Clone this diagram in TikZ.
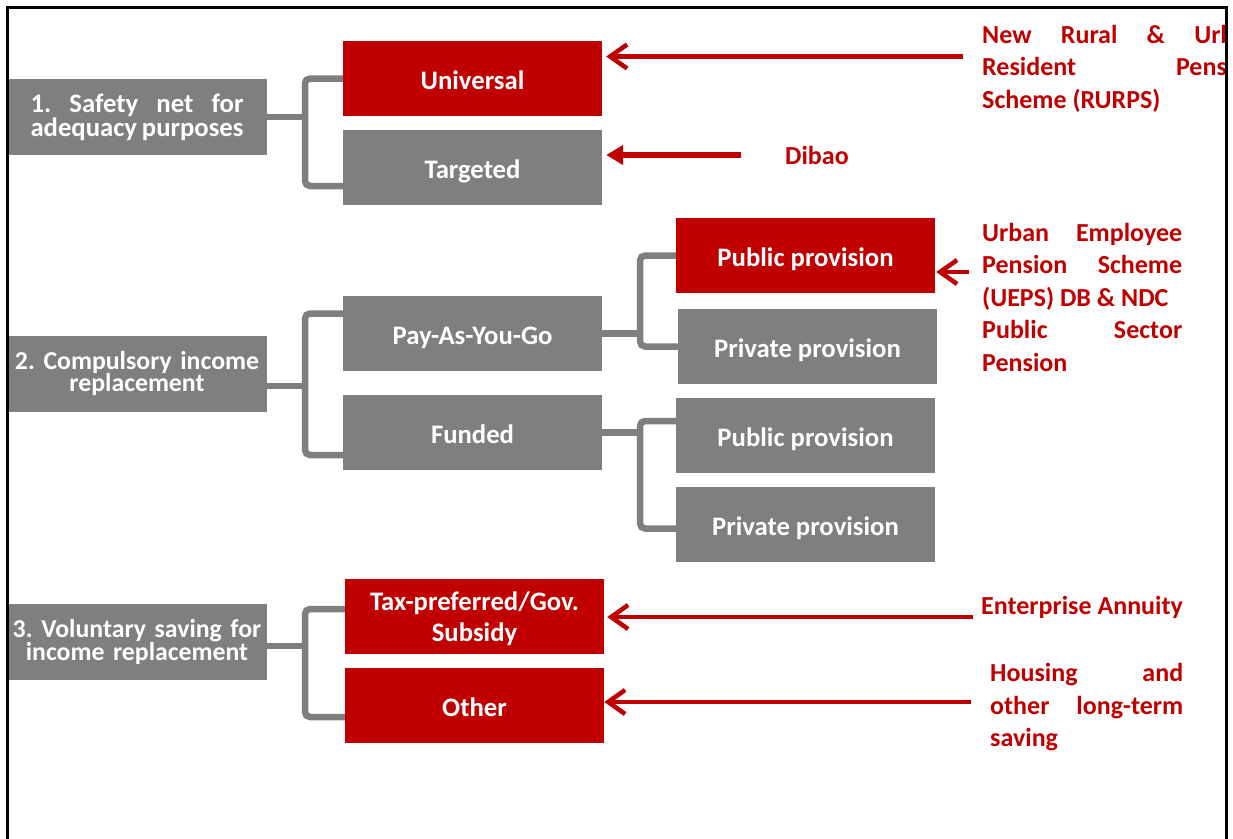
\documentclass[tikz,border=0pt]{standalone}
\usepackage{fontspec}
\setmainfont{Carlito}
\usetikzlibrary{arrows.meta,calc}
\definecolor{gbox}{HTML}{7F7F7F}
\definecolor{rbox}{HTML}{C00000}
\frenchspacing
\begin{document}
\begin{tikzpicture}[x=1pt,y=-1pt,
  box/.style={minimum width=259pt,minimum height=75pt,inner sep=0pt,text=white,
    font=\bfseries\fontsize{26.7}{26}\selectfont},
  one/.style={text height=21pt,text depth=0pt},
  gbx/.style={box,fill=gbox},
  rbx/.style={box,fill=rbox},
  lvl/.style={gbx,minimum width=260pt,minimum height=76pt},
  br/.style={draw=gbox,line width=6.5pt,rounded corners=5pt},
  arr/.style={draw=rbox,line width=4.5pt,-{Straight Barb[length=17pt,width=24pt]}},
  arrf/.style={draw=rbox,line width=6pt,-{Triangle[length=17pt,width=19pt]}},
  lab/.style={text=rbox,font=\bfseries\fontsize{26}{32.5}\selectfont,inner sep=0pt,anchor=base west}
]
\useasboundingbox (0,0) rectangle (1233,838);

% level 1
\node[lvl,text width=213pt,align=justify,font=\bfseries\fontsize{26.7}{22}\selectfont] (l1) at (137,117) {1. Safety net for\linebreak adequacy purposes};
\node[lvl,text width=258pt,align=center,font=\bfseries\fontsize{25.8}{22.5}\selectfont] (l2) at (137,373.5) {2. Compulsory income\\replacement};
\node[lvl,text width=258pt,align=center,font=\bfseries\fontsize{25.8}{23}\selectfont] (l3) at (137,641.5) {3. Voluntary saving for\\income replacement};

% level 2
\node[rbx,one] (univ) at (472.5,78.5) {Universal};
\node[gbx,one] (targ) at (472.5,167.5) {Targeted};
\node[gbx,one] (payg) at (472.5,333.5) {Pay-As-You-Go};
\node[gbx,one] (fund) at (472.5,432.5) {Funded};
\node[rbx,text width=259pt,align=center,font=\bfseries\fontsize{26.7}{31}\selectfont] (tax) at (474.5,616.5) {\rule{0pt}{23pt}Tax-preferred/Gov.\\Subsidy};
\node[rbx,one] (other) at (474.5,705.5) {Other};

% level 3
\node[rbx,one] (pub1) at (805.5,255.5) {Public provision};
\node[gbx,one] (priv1) at (807.5,346.5) {Private provision};
\node[gbx,one] (pub2) at (805.5,435.5) {Public provision};
\node[gbx,one] (priv2) at (805.5,524.5) {Private provision};

% brackets
\coordinate (j1) at (305,117);
\coordinate (j2) at (305,386);
\coordinate (j3) at (640,333.5);
\coordinate (j4) at (640,432.5);
\coordinate (j5) at (305,646);
\draw[br] (l1.east) -- (j1);
\draw[br] (univ.west) -| (j1) |- ($(targ.west)+(0,18.5)$);
\draw[br] ($(l2.east)+(0,12.5)$) -- (j2);
\draw[br] ($(payg.west)+(0,-20)$) -| (j2) |- ($(fund.west)+(0,22.5)$);
\draw[br] (payg.east) -- (j3);
\draw[br] (pub1.west) -| (j3) |- (priv1.west);
\draw[br] (fund.east) -- (j4);
\draw[br] ($(pub2.west)+(0,-14.5)$) -| (j4) |- ($(priv2.west)+(0,4)$);
\draw[br] ($(l3.east)+(0,4.5)$) -- (j5);
\draw[br] ($(tax.west)+(0,-7.5)$) -| (j5) |- ($(other.west)+(0,11.5)$);

% labels
\begin{scope}
\clip (0,0) rectangle (1225,838);
\node[lab] (rurps) at (982,43) {\parbox[t]{279pt}{New Rural \& Urban\linebreak Resident Pension\linebreak Scheme (RURPS)}};
\end{scope}
\node[lab] (dibao) at (785,164) {Dibao};
\node[lab] (ueps) at (982,241) {\parbox[t]{200pt}{Urban Employee\linebreak Pension Scheme\linebreak (UEPS) DB \& NDC\par Public Sector\linebreak Pension}};
\node[lab] (ent) at (981,614) {Enterprise Annuity};
\node[lab] (hous) at (990,681.5) {\parbox[t]{193pt}{Housing and\linebreak other long-term\linebreak saving}};

% arrows
\coordinate (a1) at (963,56.5);
\coordinate (a2) at (741,155);
\coordinate (a3) at (969,272);
\coordinate (a4) at (973,617);
\coordinate (a5) at (971,702);
\draw[arr,shorten >=4pt] (a1) -- (univ.east |- a1);
\draw[arrf,shorten >=4pt] (a2) -- (targ.east |- a2);
\draw[arr,shorten >=1pt] (a3) -- (pub1.east |- a3);
\draw[arr,shorten >=3pt] (a4) -- (tax.east |- a4);
\draw[arr] (a5) -- (other.east |- a5);

% frame
\draw[line width=3pt] (7,900) -- (7,7) -- (1226.5,7) -- (1226.5,900);
\end{tikzpicture}
\end{document}
